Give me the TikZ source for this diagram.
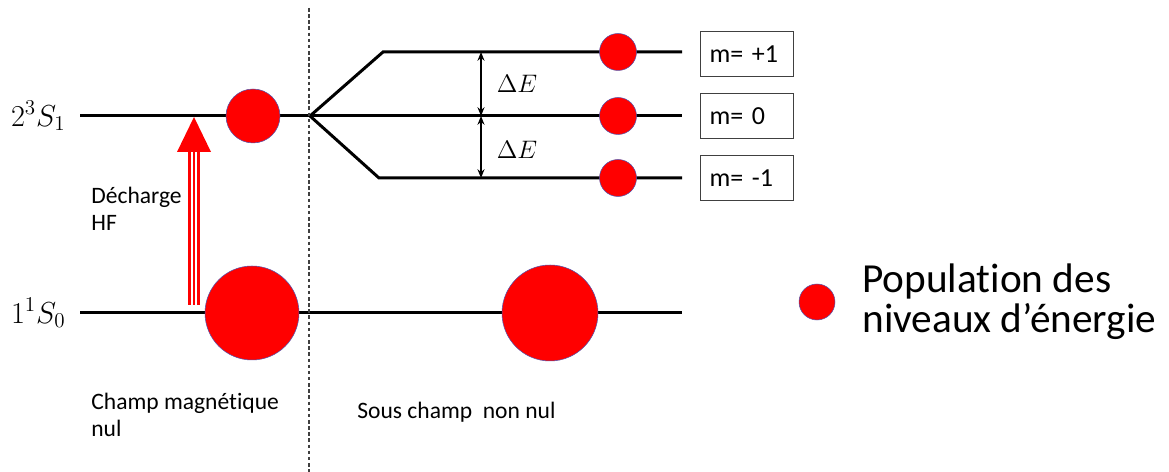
\documentclass[tikz,border=0pt]{standalone}
\usepackage{fontspec}
\setmainfont{Carlito}[Ligatures={NoCommon}]
\usetikzlibrary{arrows.meta}

\begin{document}
\begin{tikzpicture}[x=0.02cm,y=0.02cm,
  level/.style={line width=1.7pt},
  pop/.style={circle,fill=red,draw=blue!35!gray,line width=0.3pt,inner sep=0pt},
  mbox/.style={draw=black!75,line width=0.6pt,text width=1.5cm,inner xsep=0.18cm,
    minimum height=0.9cm,align=left,font=\fontsize{14.8}{17}\selectfont},
  small/.style={font=\fontsize{13.4}{15.4}\selectfont,align=left,inner sep=0pt},
  lab/.style={font=\fontsize{15}{18}\selectfont,inner sep=0pt}]
\useasboundingbox (0,0) rectangle (1169,472);

% niveaux
\coordinate (hautg) at (80,356);
\coordinate (hautd) at (682,356);
\coordinate (fondg) at (80,159);
\coordinate (fondd) at (682,159);
\coordinate (split) at (310,356);
\coordinate (plus) at (383,420);
\coordinate (moins) at (379,294);
\draw[level] (hautg) -- (hautd);
\draw[level] (fondg) -- (fondd);
\draw[level] (split) -- (plus) -- (682,420);
\draw[level] (split) -- (moins) -- (682,294);

% separation
\coordinate (septop) at (309,464);
\coordinate (sepbot) at (309,0);
\draw[black!75,line width=0.6pt,dash pattern=on 2pt off 1.5pt] (septop) -- (sepbot);

\node[lab,anchor=east,font=\fontsize{17}{20}\selectfont] (n2) at (66,356) {$2^3S_1$};
\node[lab,anchor=east,font=\fontsize{17}{20}\selectfont] (n1) at (66,159) {$1^1S_0$};

% decharge HF
\coordinate (hfbas) at (194,167);
\coordinate (hfhaut) at (194,320);
\foreach \dx/\w in {-4.5/1.3pt,0/0.7pt,4.5/1.3pt}
  \draw[red,line width=\w] ([xshift=\dx*0.02cm]hfbas) -- ([xshift=\dx*0.02cm]hfhaut);
\fill[red] (177,320) -- (211,320) -- (194,355) -- cycle;
\node[small,anchor=north west] (decharge) at (91,285) {Décharge\\HF};

% Delta E
\coordinate (de1) at (481,420);
\coordinate (de2) at (481,356);
\coordinate (de3) at (481,294);
\draw[{Stealth[length=5pt,width=4pt]}-{Stealth[length=5pt,width=4pt]},line width=0.9pt] (de1) -- (de2);
\draw[{Stealth[length=5pt,width=4pt]}-{Stealth[length=5pt,width=4pt]},line width=0.9pt] (de2) -- (de3);
\node[lab] (deA) at (517,388) {$\Delta E$};
\node[lab] (deB) at (517,322) {$\Delta E$};

% populations
\node[pop,minimum size=1.08cm] (popT) at (253,356) {};
\node[pop,minimum size=1.88cm] (popF) at (252,159) {};
\node[pop,minimum size=1.92cm] (popFB) at (550,159) {};
\node[pop,minimum size=0.74cm] (pop1) at (618,420) {};
\node[pop,minimum size=0.74cm] (pop0) at (618,356) {};
\node[pop,minimum size=0.74cm] (popm) at (618,294) {};

\node[mbox] (m1) at (747,418) {m= +1};
\node[mbox] (m0) at (747,356) {m= 0};
\node[mbox] (mm) at (747,294) {m= -1};

% legende
\node[pop,minimum size=0.72cm] (leg) at (817,170) {};
\node[font=\fontsize{23.5}{22.8}\selectfont,align=left,inner sep=0pt,anchor=west] (legtxt) at (862,170)
  {Population des\\niveaux d’énergie};

\node[small,anchor=north west] (champnul) at (91,79) {Champ magnétique\\nul};
\node[small,anchor=base west] (champ) at (357,53) {Sous champ\ \ non nul};
\end{tikzpicture}
\end{document}
